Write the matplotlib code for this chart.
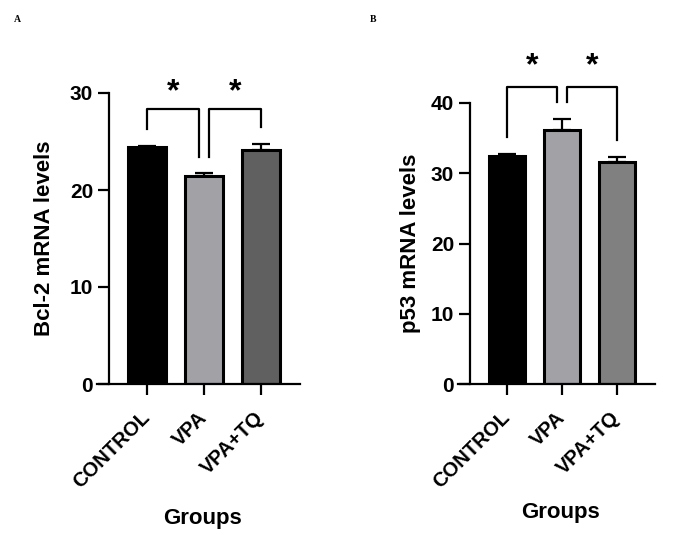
import matplotlib
matplotlib.use("Agg")
import matplotlib.pyplot as plt

plt.rcParams['font.family'] = ['Liberation Sans', 'DejaVu Sans']
plt.rcParams['font.weight'] = 'bold'

groups = ["CONTROL", "VPA", "VPA+TQ"]

bcl2_means = [24.4, 21.4, 24.1]
bcl2_err = [0.1, 0.35, 0.6]

p53_means = [32.5, 36.2, 31.6]
p53_err = [0.2, 1.5, 0.7]

bcl2_colors = ["#000000", "#a2a2a6", "#606060"]
p53_colors = ["#000000", "#a2a2a6", "#808080"]

# significance brackets: (x1, x2, top, left leg end, right leg end, star y)
bcl2_brackets = [(0, 0.91, 28.35, 26.3, 23.4, 30.1),
                 (1.09, 2, 28.35, 23.4, 26.5, 30.1)]
p53_brackets = [(0, 0.91, 42.3, 35.2, 40.2, 45.2),
                (1.09, 2, 42.3, 40.2, 34.7, 45.2)]


def draw_panel(ax, means, errs, colors, brackets, ylabel, ymax, yticks,
               xlim, spine_pos, xlab_y, ylab_x):
    x = list(range(len(groups)))
    ax.bar(x, means, width=0.67, color=colors, edgecolor="black",
           linewidth=2.2, zorder=2)
    ax.errorbar(x, means, yerr=[[0] * len(errs), errs], fmt="none",
                ecolor="black", elinewidth=1.6, capsize=6.5, capthick=1.6,
                zorder=1)
    for x1, x2, top, l1, l2, sy in brackets:
        ax.plot([x1, x1, x2, x2], [l1, top, top, l2], color="black",
                lw=1.6, clip_on=False)
        ax.text((x1 + x2) / 2, sy, "*", ha="center", va="center",
                fontsize=23, fontweight="bold")
    ax.set_xlim(*xlim)
    ax.set_ylim(0, ymax)
    ax.set_yticks(yticks)
    ax.set_xticks(x)
    ax.set_xticklabels(groups, rotation=45, ha="right", va="center",
                       rotation_mode="anchor", fontsize=14.5,
                       fontweight="bold")
    ax.tick_params(axis="y", labelsize=15, length=8, width=1.6)
    ax.tick_params(axis="x", length=8, width=1.6, pad=14)
    for lbl in ax.get_yticklabels():
        lbl.set_fontweight("bold")
    ax.spines["top"].set_visible(False)
    ax.spines["right"].set_visible(False)
    ax.spines["left"].set_linewidth(1.6)
    ax.spines["bottom"].set_linewidth(1.6)
    ax.spines["left"].set_position(("axes", spine_pos))
    ax.set_ylabel(ylabel, fontsize=16, fontweight="bold")
    ax.yaxis.set_label_coords(ylab_x, 0.5)
    ax.set_xlabel("Groups", fontsize=16, fontweight="bold")
    ax.xaxis.set_label_coords(0.52, xlab_y)


fig = plt.figure(figsize=(6.78, 5.6), dpi=100)

ax1 = fig.add_axes([97 / 678, 1 - 384 / 560, 203 / 678, 291 / 560])
draw_panel(ax1, bcl2_means, bcl2_err, bcl2_colors, bcl2_brackets,
           "Bcl-2 mRNA levels", 30, [0, 10, 20, 30], (-0.877, 2.684),
           0.059, -0.426, -0.207)

ax2 = fig.add_axes([458 / 678, 1 - 384 / 560, 197 / 678, 281 / 560])
draw_panel(ax2, p53_means, p53_err, p53_colors, p53_brackets,
           "p53 mRNA levels", 40, [0, 10, 20, 30, 40], (-0.891, 2.69),
           0.061, -0.42, -0.188)

fig.text(17 / 678, 1 - 20 / 560, "A", family="Liberation Serif",
         fontweight="bold", fontsize=7, ha="center", va="center")
fig.text(373 / 678, 1 - 20 / 560, "B", family="Liberation Serif",
         fontweight="bold", fontsize=7, ha="center", va="center")

fig.savefig("out.png", dpi=100)
